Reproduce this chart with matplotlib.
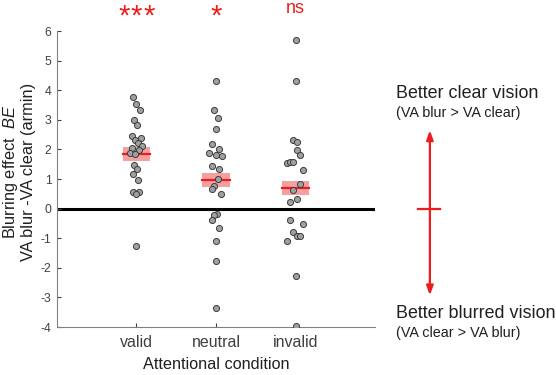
import numpy as np
import matplotlib
matplotlib.use("Agg")
import matplotlib.pyplot as plt

plt.rcParams['font.family'] = ['Liberation Sans', 'DejaVu Sans']
plt.rcParams['mathtext.fontset'] = 'custom'
plt.rcParams['mathtext.it'] = 'Liberation Sans:italic'
plt.rcParams['mathtext.rm'] = 'Liberation Sans'
plt.rcParams['axes.unicode_minus'] = False

conditions = ["valid", "neutral", "invalid"]
stars = ["***", "*", "ns"]

# blurring effect per observer (armin)
valid = [3.76, 3.54, 3.32, 3.00, 2.84, 2.44, 2.40, 2.31, 2.22, 2.11, 2.06,
         1.97, 1.88, 1.84, 1.46, 1.35, 1.16, 0.97, 0.57, 0.56, 0.49, -1.26]
neutral = [4.30, 3.34, 3.05, 2.70, 2.17, 2.03, 1.89, 1.81, 1.79, 1.44, 1.34,
           1.00, 0.76, 0.66, 0.48, -0.19, -0.23, -0.37, -0.64, -1.09, -1.77, -3.35]
invalid = [5.69, 4.30, 2.31, 2.25, 1.97, 1.83, 1.54, 1.56, 1.56, 1.30, 0.83,
           0.64, 0.31, 0.21, -0.38, -0.53, -0.80, -0.93, -0.94, -1.09, -2.29, -3.96]
# horizontal jitter of each dot
jit_valid = [-0.04, 0.0, 0.04, -0.03, 0.01, -0.06, 0.06, -0.02, 0.02, 0.075, -0.06,
             0.03, -0.08, -0.02, -0.03, 0.01, -0.04, 0.02, -0.05, 0.03, -0.01, 0.0]
jit_neutral = [0.0, -0.025, 0.02, 0.0, -0.045, 0.04, -0.085, 0.0, 0.075, -0.045, 0.04,
               0.02, -0.025, -0.055, 0.06, 0.017, -0.03, -0.055, 0.04, 0.0, 0.0, 0.0]
jit_invalid = [0.0, 0.0, -0.035, 0.015, 0.015, 0.055, -0.11, -0.075, -0.03, 0.09, 0.055,
               -0.035, 0.015, -0.065, -0.065, 0.09, -0.035, 0.015, 0.055, -0.11, 0.0, 0.0]
means = [1.86, 0.96, 0.70]
sems = [0.24, 0.24, 0.24]

RED = "#ee1c1c"
groups = [valid, neutral, invalid]
jits = [jit_valid, jit_neutral, jit_invalid]

fig = plt.figure(figsize=(5.56, 3.75), dpi=100)
ax = fig.add_axes([0.1025, 0.128, 0.572, 0.789])

for i, (vals, jit) in enumerate(zip(groups, jits)):
    x0 = i + 1
    ax.fill_between([x0 - 0.17, x0 + 0.17], means[i] - sems[i], means[i] + sems[i],
                    color="#f5a0a0", lw=0, zorder=2)
    ax.plot([x0 - 0.17, x0 + 0.17], [means[i]] * 2, color=RED, lw=1.6, zorder=3)
    ax.plot(x0 + np.array(jit), vals, "o", ms=4.4, mfc="#a0a0a0", mec="#3c3c3c",
            mew=0.7, zorder=4)
    if stars[i] == "ns":
        ax.text(x0, 6.6, stars[i], color=RED, fontsize=13, ha="center",
                va="baseline", clip_on=False)
    else:
        # spread the asterisks a little, as in the original
        n = len(stars[i])
        for k in range(n):
            ax.text(x0 + (k - (n - 1) / 2) * 0.155, 6.21, "*", color=RED, fontsize=21,
                    ha="center", va="baseline", clip_on=False)

ax.axhline(0, color="black", lw=2.2, zorder=1)
ax.set_xlim(0, 4)
ax.set_ylim(-4, 6)
ax.set_yticks(range(-4, 7))
ax.set_xticks([1, 2, 3])
ax.set_xticklabels(conditions, fontsize=11.5)
ax.tick_params(axis="y", direction="in", length=3, labelsize=8.8, colors="#404040",
               pad=4)
ax.tick_params(axis="x", direction="in", length=3, colors="#404040", pad=6)
for s in ["top", "right"]:
    ax.spines[s].set_visible(False)
for s in ["left", "bottom"]:
    ax.spines[s].set_color("#808080")
    ax.spines[s].set_linewidth(0.8)
ax.set_xlabel("Attentional condition", fontsize=11.7, color="#202020", labelpad=5)
fig.text(18.5 / 556, 1 - 172 / 375,
         "Blurring effect  $\\mathit{BE}$\nVA blur -VA clear (armin)",
         rotation=90, ha="center", va="center", fontsize=11.8, color="#202020",
         linespacing=1.15)

# direction legend on the right
ax.annotate("", xy=(4.69, 2.65), xytext=(4.69, -2.93), annotation_clip=False,
            arrowprops=dict(arrowstyle="<|-|>,head_length=0.55,head_width=0.2",
                            color=RED, lw=1.6, shrinkA=0, shrinkB=0))
ax.plot([4.535, 4.82], [0, 0], color=RED, lw=1.6, clip_on=False)
ax.text(4.26, 3.90, "Better clear vision", fontsize=12.9, va="center", clip_on=False,
        color="#202020")
ax.text(4.26, 3.22, "(VA blur > VA clear)", fontsize=10.4, va="center", clip_on=False,
        color="#202020")
ax.text(4.26, -3.53, "Better blurred vision", fontsize=12.9, va="center", clip_on=False,
        color="#202020")
ax.text(4.26, -4.21, "(VA clear > VA blur)", fontsize=10.4, va="center", clip_on=False,
        color="#202020")

fig.savefig("out.png", dpi=100)
